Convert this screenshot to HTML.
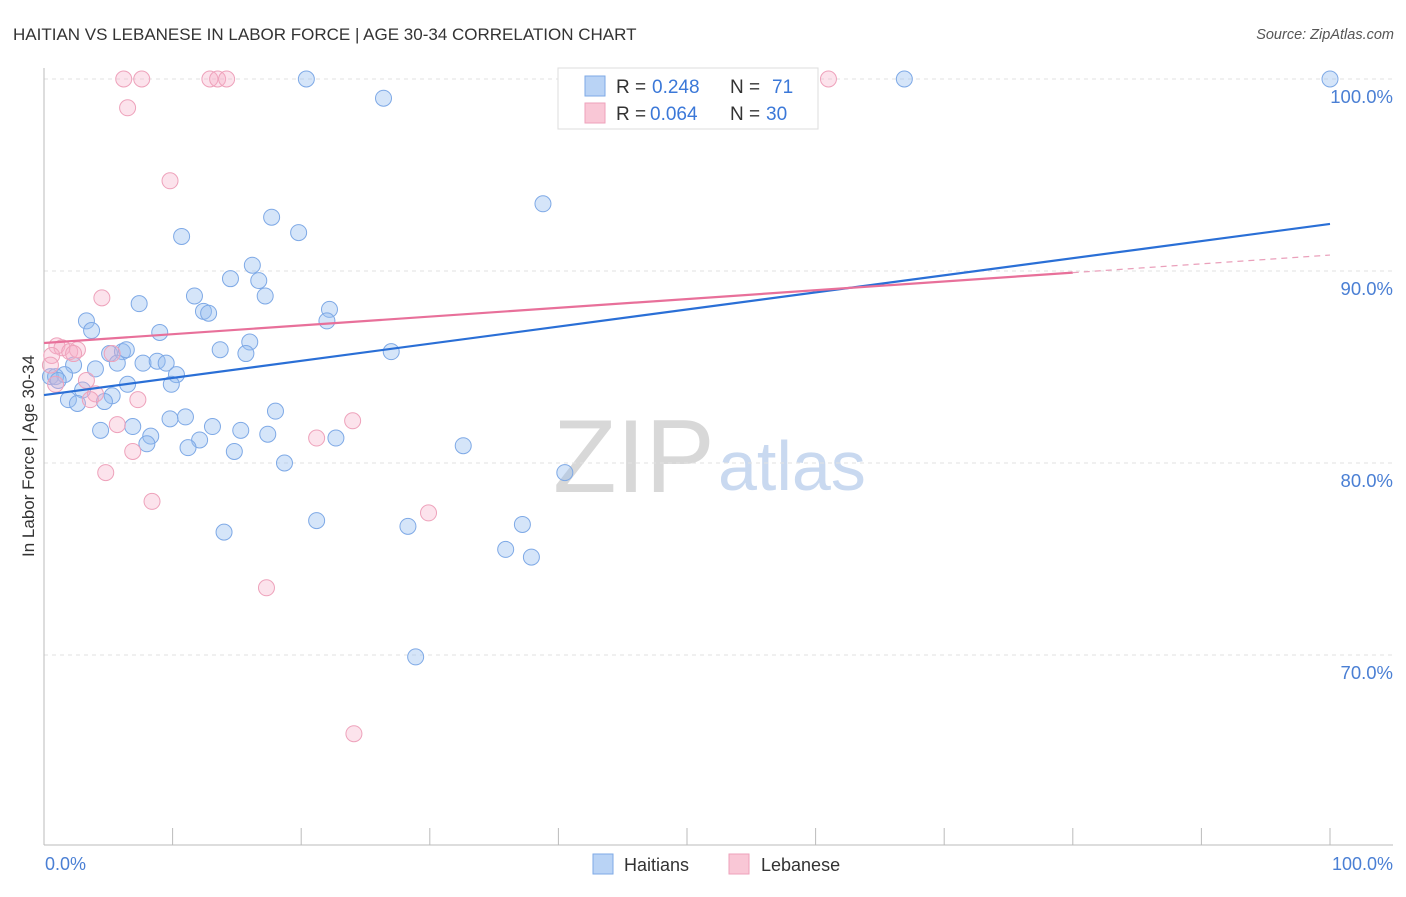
<!DOCTYPE html>
<html><head><meta charset="utf-8"><style>
body{margin:0;background:#fff;font-family:"Liberation Sans",sans-serif;}
svg text{font-family:"Liberation Sans",sans-serif;}
</style></head><body>
<svg id="chart" width="1406" height="892">
<text x="13" y="40" font-size="17" fill="#333">HAITIAN VS LEBANESE IN LABOR FORCE | AGE 30-34 CORRELATION CHART</text>
<text x="1394" y="39" font-size="14.5" fill="#555" font-style="italic" text-anchor="end">Source: ZipAtlas.com</text>
<text x="553" y="492" font-size="104" fill="#d8d8d8" font-family="Liberation Serif,serif">ZIP</text>
<text x="718" y="490" font-size="70" fill="#c9d9f0">atlas</text>
<g id="grid"></g>
<line x1="44" y1="68" x2="44" y2="845" stroke="#bbb"/>
<line x1="44" y1="845" x2="1393" y2="845" stroke="#bbb"/>
<text transform="translate(34,456) rotate(-90)" font-size="17" fill="#333" text-anchor="middle">In Labor Force | Age 30-34</text>
<text x="45" y="870" font-size="18" fill="#4a7fd4">0.0%</text>
<text x="1393" y="870" font-size="18" fill="#4a7fd4" text-anchor="end">100.0%</text>
<g id="pts"></g>
<g id="lines"></g>
<rect x="558" y="68" width="260" height="61" fill="#fff" stroke="#ddd"/>
<rect x="585" y="76" width="20" height="20" fill="#b9d3f5" stroke="#7ea9e6"/>
<rect x="585" y="103" width="20" height="20" fill="#f9c7d6" stroke="#eea2bb"/>
<g font-size="19" fill="#333">
<text x="616" y="93">R =</text><text x="652" y="93" fill="#3b78d8">0.248</text><text x="730" y="93">N =</text><text x="772" y="93" fill="#3b78d8">71</text>
</g>
<g font-size="19" fill="#333">
<text x="616" y="120">R =</text><text x="650" y="120" fill="#3b78d8">0.064</text><text x="730" y="120">N =</text><text x="766" y="120" fill="#3b78d8">30</text>
</g>
<rect x="593" y="854" width="20" height="20" fill="#b9d3f5" stroke="#7ea9e6"/>
<text x="624" y="871" font-size="18" fill="#333">Haitians</text>
<rect x="729" y="854" width="20" height="20" fill="#f9c7d6" stroke="#eea2bb"/>
<text x="761" y="871" font-size="18" fill="#333">Lebanese</text>
</svg>
<script>
const yTicks=[100,90,80,70];
const yTickLabels=["100.0%","90.0%","80.0%","70.0%"];
const xTickCount=10;
const blueX=[20.4,26.4,66.9,100,38.8,17.7,10.7,19.8,16.2,14.5,16.7,11.7,17.2,7.4,12.4,12.8,22.2,22.0,3.3,3.7,9.0,16.0,13.7,15.7,27.0,5.1,6.1,6.4,5.7,7.7,8.8,9.5,2.3,4.0,10.3,1.6,0.5,0.9,1.1,9.9,6.5,3.0,5.3,1.9,2.6,4.7,18.0,9.8,11.0,4.4,6.9,13.1,15.3,17.4,8.3,12.1,22.7,8.0,11.2,14.8,32.6,18.7,40.5,21.2,28.3,37.2,14.0,35.9,37.9,28.9];
const blueY=[100,99.0,100,100,93.5,92.8,91.8,92.0,90.3,89.6,89.5,88.7,88.7,88.3,87.9,87.8,88.0,87.4,87.4,86.9,86.8,86.3,85.9,85.7,85.8,85.7,85.8,85.9,85.2,85.2,85.3,85.2,85.1,84.9,84.6,84.6,84.5,84.5,84.3,84.1,84.1,83.8,83.5,83.3,83.1,83.2,82.7,82.3,82.4,81.7,81.9,81.9,81.7,81.5,81.4,81.2,81.3,81.0,80.8,80.6,80.9,80.0,79.5,77.0,76.7,76.8,76.4,75.5,75.1,69.9];
const pinkX=[6.2,7.6,12.9,13.5,14.2,61.0,6.5,9.8,4.5,1.0,1.4,2.0,2.6,2.3,0.6,5.3,0.5,3.3,0.9,4.0,3.6,7.3,5.7,24.0,21.2,6.9,4.8,8.4,29.9,17.3,24.1];
const pinkY=[100,100,100,100,100,100,98.5,94.7,88.6,86.1,86.0,85.8,85.9,85.7,85.6,85.7,85.1,84.3,84.1,83.6,83.3,83.3,82.0,82.2,81.3,80.6,79.5,78.0,77.4,73.5,65.9];
const blueTrend=[83.54,92.45];
const pinkTrend=[86.25,90.83];
const pinkSolidEnd=80;
const sx=v=>44+v*12.86;
const sy=v=>79+(100-v)*19.2;
const NS="http://www.w3.org/2000/svg";
function mk(t,a,p){const e=document.createElementNS(NS,t);for(const k in a)e.setAttribute(k,a[k]);p.appendChild(e);return e;}
const grid=document.getElementById('grid');
yTicks.forEach((t,i)=>{
 const l=mk('line',{x1:44,x2:1393,y1:sy(t),y2:sy(t),stroke:'#e2e2e2','stroke-dasharray':'4,4'},grid);
 
 
 const tx=mk('text',{x:1393,y:sy(t)+24,'font-size':18.5,fill:'#4a7fd4','text-anchor':'end'},grid);
 tx.textContent=yTickLabels[i];
 
 
});
for(let i=1;i<=xTickCount;i++){
 const l=mk('line',{x1:sx(i*10),x2:sx(i*10),y1:828,y2:845,stroke:'#bbb'},grid);
 
 
}
const pts=document.getElementById('pts');
blueX.forEach((x,i)=>{
 const c=mk('circle',{cx:sx(x),cy:sy(blueY[i]),r:8,fill:'rgba(150,190,240,0.4)',stroke:'#7ea9e6','stroke-width':1},pts);
 
 
});
pinkX.forEach((x,i)=>{
 const c=mk('circle',{cx:sx(x),cy:sy(pinkY[i]),r:8,fill:'rgba(245,175,200,0.35)',stroke:'#eea2bb','stroke-width':1},pts);
 
 
});
const lines=document.getElementById('lines');
const bl=mk('line',{x1:sx(0),y1:sy(blueTrend[0]),x2:sx(100),y2:sy(blueTrend[1]),stroke:'#2a6fd6','stroke-width':2.2},lines);


const pm=pinkTrend[0]+(pinkTrend[1]-pinkTrend[0])*pinkSolidEnd/100;
const pl=mk('line',{x1:sx(0),y1:sy(pinkTrend[0]),x2:sx(pinkSolidEnd),y2:sy(pm),stroke:'#e8709a','stroke-width':2.2},lines);


const pd=mk('line',{x1:sx(pinkSolidEnd),y1:sy(pm),x2:sx(100),y2:sy(pinkTrend[1]),stroke:'#eaa0bb','stroke-width':1.2,'stroke-dasharray':'6,5'},lines);


</script>
</body></html>
